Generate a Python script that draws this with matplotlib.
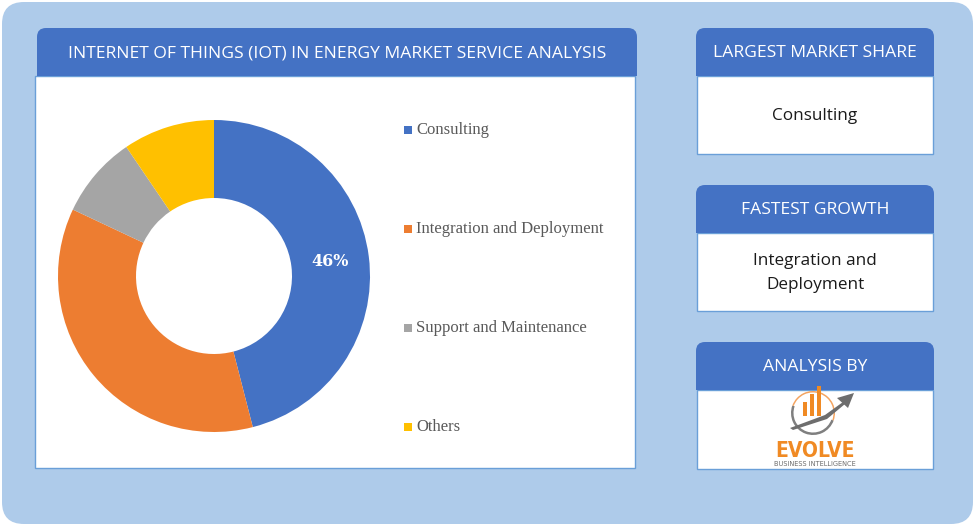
import matplotlib
matplotlib.use("Agg")
import matplotlib.pyplot as plt
from matplotlib.patches import FancyBboxPatch, Rectangle, Wedge, Polygon

# ==================== Data ====================
segments = ["Consulting", "Integration and Deployment", "Support and Maintenance", "Others"]
shares = [46, 36, 8.5, 9.5]
colors = ["#4472C4", "#ED7D31", "#A5A5A5", "#FFC000"]

title = "INTERNET OF THINGS (IOT) IN ENERGY MARKET SERVICE ANALYSIS"
side_titles = ["LARGEST MARKET SHARE", "FASTEST GROWTH", "ANALYSIS BY"]
side_texts = ["Consulting", "Integration and\nDeployment", None]

BG = "#AECBEA"
HEAD = "#4472C4"
EDGE = "#6A9FD8"

W, H = 975, 526
fig = plt.figure(figsize=(W / 100, H / 100), dpi=100)
fig.patch.set_facecolor("white")
ax = fig.add_axes([0, 0, 1, 1])
ax.set_xlim(0, W)
ax.set_ylim(H, 0)
ax.axis("off")

# outer background
ax.add_patch(FancyBboxPatch((2, 2), W - 4, H - 4, boxstyle="round,pad=0,rounding_size=22",
                            fc=BG, ec="none"))


def header(x0, x1, y0, y1, text, size):
    ax.add_patch(FancyBboxPatch((x0, y0), x1 - x0, y1 - y0, boxstyle="round,pad=0,rounding_size=9",
                                fc=HEAD, ec="none"))
    ax.add_patch(Rectangle((x0, y0 + 12), x1 - x0, y1 - y0 - 12, fc=HEAD, ec="none"))
    ax.text((x0 + x1) / 2, (y0 + y1) / 2 + 1, text, color="white", fontsize=size,
            ha="center", va="center", family="Open Sans")


def body(x0, x1, y0, y1):
    ax.add_patch(Rectangle((x0, y0), x1 - x0, y1 - y0, fc="white", ec=EDGE, lw=1.0))


# main panel
body(35, 635, 76, 468)
header(37, 637, 28, 76, title, 12.6)

# side panels
boxes = [(28, 76, 154), (185, 233, 311), (342, 390, 469)]
for (y0, ym, y1), t, s in zip(boxes, side_titles, side_texts):
    body(697, 933, ym, y1)
    header(696, 934, y0, ym, t, 12.6)
    if s:
        ax.text(815, (ym + y1) / 2 + 1, s, color="#1a1a1a", fontsize=12.3, ha="center",
                va="center", family="Open Sans", linespacing=1.6)

# logo
lx, ly = 815, 418
ax.add_patch(Wedge((lx - 2, ly - 5), 22, 20, 200, width=2.5, fc="#7f7f7f", ec="none"))
ax.add_patch(Wedge((lx - 2, ly - 5), 22, 200, 20, width=1.5, fc="#F4A460", ec="none"))
for i, hgt in enumerate([14, 22, 30]):
    ax.add_patch(Rectangle((lx - 12 + i * 7, ly - 2 - hgt), 4, hgt, fc="#F08A24", ec="none"))
ax.add_patch(Polygon([[lx - 25, ly + 10], [lx + 10, ly - 3], [lx + 28, ly - 16],
                      [lx + 30, ly - 14], [lx + 12, ly + 1], [lx - 22, ly + 12]],
                     fc="#6d6d6d", ec="none"))
ax.add_patch(Polygon([[lx + 22, ly - 20], [lx + 39, ly - 25], [lx + 33, ly - 10]],
                     fc="#6d6d6d", ec="none"))
ax.text(lx, ly + 33, "EVOLVE", color="#F08A24", fontsize=15, fontweight="bold",
        ha="center", va="center", family="DejaVu Sans", stretch="condensed")
ax.text(lx, ly + 46, "BUSINESS INTELLIGENCE", color="#6d6d6d", fontsize=4.8,
        ha="center", va="center", family="DejaVu Sans")

# legend
legend_y = [130, 229, 328, 427]
for lab, c, yy in zip(segments, colors, legend_y):
    ax.add_patch(Rectangle((404, yy - 4), 8, 8, fc=c, ec="none"))
    ax.text(416, yy, lab, color="#595959", fontsize=12, ha="left", va="center",
            family="Liberation Serif")

# donut
cx, cy, r = 214, 276, 156
pax = fig.add_axes([(cx - r) / W, (H - cy - r) / H, 2 * r / W, 2 * r / H])
wedges, _, autotexts = pax.pie(shares, colors=colors, startangle=90, counterclock=False,
                               radius=1.0, wedgeprops=dict(width=0.5, edgecolor="none"),
                               autopct=lambda p: f"{p:.0f}%" if p > 40 else "",
                               pctdistance=0.75)
for t in autotexts:
    t.set_color("white")
    t.set_fontsize(11.5)
    t.set_fontweight("bold")
    t.set_family("DejaVu Serif")
pax.set_xlim(-1, 1)
pax.set_ylim(-1, 1)

fig.savefig("out.png", dpi=100)
